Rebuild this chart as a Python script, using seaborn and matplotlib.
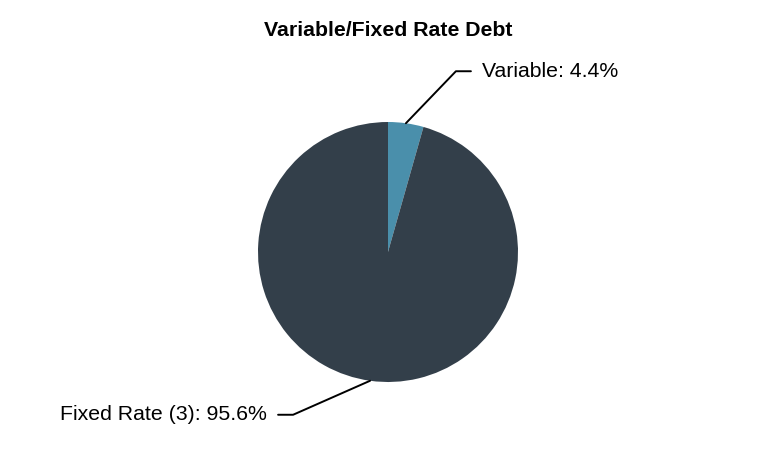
import numpy as np
import matplotlib
matplotlib.use("Agg")
import matplotlib.pyplot as plt
import seaborn as sns

# data
categories = ["Variable", "Fixed Rate (3)"]
shares = [4.4, 95.6]
colors = ["#4a8fab", "#333f4a"]

sns.set_theme(style="white")
plt.rcParams["font.family"] = ["Liberation Sans", "DejaVu Sans"]

fig = plt.figure(figsize=(7.76, 4.5), dpi=100)
ax = fig.add_axes([0, 0, 1, 1])

cx, cy, r = 388, 450 - 252, 130
wedges, _ = ax.pie(shares, colors=colors, startangle=90, counterclock=False,
                   center=(cx, cy), radius=r, frame=True,
                   wedgeprops={"linewidth": 0})
ax.set_xlim(0, 776)
ax.set_ylim(0, 450)
ax.set_aspect("equal")
ax.axis("off")

# leader lines + labels (elbow offsets are layout only)
offsets = [(50, 52, 15, "left"), (-77, -34, -15, "right")]
for w, cat, val, (dx, dy, hx, ha) in zip(wedges, categories, shares, offsets):
    ang = np.deg2rad((w.theta1 + w.theta2) / 2)
    x0, y0 = cx + r * np.cos(ang), cy + r * np.sin(ang)
    x1, y1 = x0 + dx, y0 + dy
    x2 = x1 + hx
    ax.plot([x0, x1, x2], [y0, y1, y1], color="black", lw=1.4)
    ax.text(x2 + (11 if ha == "left" else -11), y1, f"{cat}: {val}%",
            ha=ha, va="center", fontsize=15.3, color="black")

fig.text(0.5, 1 - 30 / 450, "Variable/Fixed Rate Debt", ha="center", va="center",
         fontsize=15.3, fontweight="bold", color="black")

fig.savefig("out.png", dpi=100)
